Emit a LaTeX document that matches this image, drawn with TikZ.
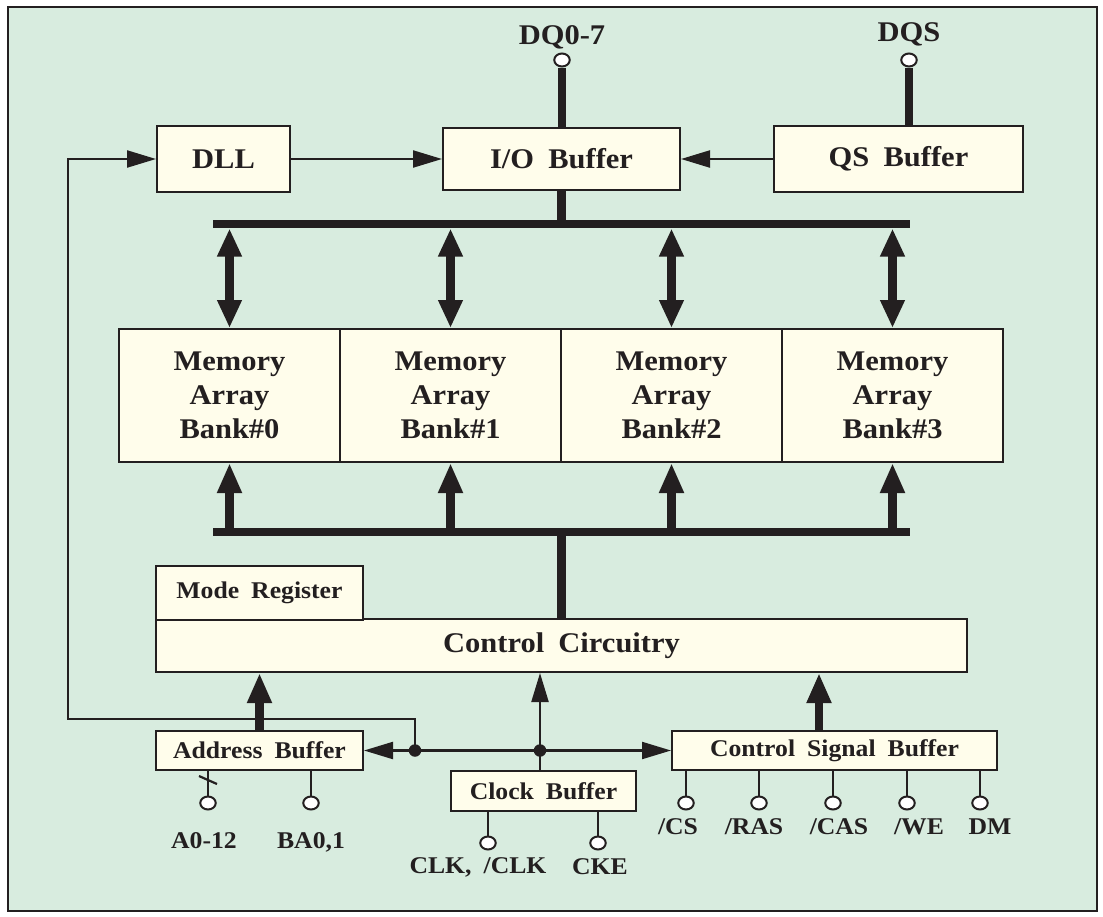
\documentclass[tikz,border=0pt]{standalone}
\usepackage{fontspec}
\setmainfont{Liberation Serif}[FakeStretch=1.07]
\usetikzlibrary{arrows.meta,shapes.geometric}
\definecolor{bg}{RGB}{216,236,223}
\definecolor{boxfill}{RGB}{255,253,235}
\definecolor{ink}{RGB}{35,31,32}
\newcommand{\fbig}{\fontsize{28.5pt}{34pt}\selectfont\bfseries}
\newcommand{\fsmall}{\fontsize{24pt}{28pt}\selectfont\bfseries}
\newcommand{\gap}{\hspace{0.5em}}
\begin{document}
\begin{tikzpicture}[x=1pt,y=-1pt,
  blk/.style={draw=ink, fill=boxfill, line width=2pt, inner sep=0pt, font=\fbig, align=center, text=ink},
  pinc/.style={ellipse, draw=ink, fill=white, line width=2pt, minimum width=15.5pt, minimum height=13pt, inner sep=0pt},
  lbl/.style={inner sep=0pt, text=ink, font=\fsmall, text depth=0pt},
  wire/.style={draw=ink, line width=2.2pt},
  warr/.style={wire, -{Triangle[length=29pt,width=17pt]}},
  bus/.style={draw=ink, line width=8.5pt},
  barr/.style={bus, -{Triangle[length=30pt,width=23pt]}},
  dbarr/.style={bus, {Triangle[length=28pt,width=23pt]}-{Triangle[length=28pt,width=23pt]}},
  jdot/.style={circle, fill=ink, minimum size=12.5pt, inner sep=0pt}
]
\useasboundingbox (0,0) rectangle (1103,916);
\fill[bg] (8,7) rectangle (1097,911);
\draw[ink, line width=2.5pt] (8,7) rectangle (1097,911);

% boxes
\node[blk, minimum width=133pt, minimum height=66pt] (dll) at (223.5,159) {DLL};
\node[blk, minimum width=237pt, minimum height=62pt] (io) at (561.5,159) {I/O\gap Buffer};
\node[blk, minimum width=249pt, minimum height=66pt] (qs) at (898.5,159) {QS\gap Buffer};
\node[blk, minimum width=221pt, minimum height=133pt] (bank0) at (229.5,395.5) {Memory\\Array\\Bank\#0};
\node[blk, minimum width=221pt, minimum height=133pt] (bank1) at (450.5,395.5) {Memory\\Array\\Bank\#1};
\node[blk, minimum width=221pt, minimum height=133pt] (bank2) at (671.5,395.5) {Memory\\Array\\Bank\#2};
\node[blk, minimum width=221pt, minimum height=133pt] (bank3) at (892.5,395.5) {Memory\\Array\\Bank\#3};
\node[blk, minimum width=811pt, minimum height=53pt] (ctrl) at (561.5,645.5) {Control\gap Circuitry};
\node[blk, font=\fsmall, minimum width=207pt, minimum height=54pt] (mode) at (259.5,593) {Mode\gap Register};
\node[blk, font=\fsmall, minimum width=207pt, minimum height=39pt] (addr) at (259.5,750.5) {Address\gap Buffer};
\node[blk, font=\fsmall, minimum width=185pt, minimum height=40pt] (clk) at (543.5,791) {Clock\gap Buffer};
\node[blk, font=\fsmall, minimum width=325pt, minimum height=39pt] (csb) at (834.5,750.5) {Control\gap Signal\gap Buffer};

% pins
\node[pinc] (dq) at (562,60) {};
\node[pinc] (dqs) at (909,60) {};
\node[pinc] (a0) at (208,803) {};
\node[pinc] (ba) at (311,803) {};
\node[pinc] (clkp) at (488,843) {};
\node[pinc] (cke) at (598,843) {};
\node[pinc] (cs) at (686,803) {};
\node[pinc] (ras) at (759,803) {};
\node[pinc] (cas) at (833,803) {};
\node[pinc] (we) at (907,803) {};
\node[pinc] (dm) at (980,803) {};

% labels
\node[lbl, font=\fbig] (ldq) at (562,35) {DQ0-7};
\node[lbl, font=\fbig] (ldqs) at (909,32) {DQS};
\node[lbl] (la0) at (204,841) {A0-12};
\node[lbl] (lba) at (311,841) {BA0,1};
\node[lbl] (lclk) at (478,866) {CLK,\gap /CLK};
\node[lbl] (lcke) at (600,867) {CKE};
\node[lbl] (lcs) at (678,827) {/CS};
\node[lbl] (lras) at (754,827) {/RAS};
\node[lbl] (lcas) at (839,827) {/CAS};
\node[lbl] (lwe) at (919,827) {/WE};
\node[lbl] (ldm) at (990,827) {DM};

% coordinates
\coordinate (tbus) at (213,224);
\coordinate (tbusR) at (910,224);
\coordinate (tbot) at (213,228.5);
\coordinate (bbus) at (213,532);
\coordinate (bbusR) at (910,532);
\coordinate (btop) at (213,527.5);
\coordinate (jA) at (415,750.5);
\coordinate (jC) at (540,750.5);
\coordinate (fbc) at (68,719);

% buses
\draw[bus] (dq.south) -- (dq.south |- io.north);
\draw[bus] (dqs.south) -- (dqs.south |- qs.north);
\draw[bus] (io.south) -- (io.south |- tbus);
\draw[bus] (tbus) -- (tbusR);
\foreach \b in {bank0,bank1,bank2,bank3}{
  \draw[dbarr] (\b.north |- tbot) -- (\b.north);
  \draw[barr] (\b.south |- btop) -- (\b.south);
}
\draw[bus] (bbus) -- (bbusR);
\draw[bus] (ctrl.north |- bbus) -- (ctrl.north);
\draw[barr] (addr.north) -- (addr.north |- ctrl.south);
\draw[barr] ([xshift=-15.5pt]csb.north) -- ([xshift=-15.5pt]csb.north |- ctrl.south);

% thin connectors
\draw[warr] (dll.east) -- (io.west);
\draw[warr] (qs.west) -- (io.east);
\draw[warr] (jA) -- (jA |- fbc) -- (fbc) -- (fbc |- dll.west) -- (dll.west);
\draw[warr] (jA) -- (addr.east);
\draw[warr] (jC) -- (csb.west);
\draw[wire] (jA) -- (jC);
\draw[wire] (clk.north -| jC) -- (jC);
\draw[warr] (jC) -- (jC |- ctrl.south);
\node[jdot] (dA) at (jA) {};
\node[jdot] (dC) at (jC) {};

% pin wires
\draw[wire] (addr.south -| a0) -- (a0.north);
\draw[wire] (addr.south -| ba) -- (ba.north);
\draw[wire] ([shift={(-9,-27)}]a0.center) -- ([shift={(9,-19)}]a0.center);
\draw[wire] (clk.south -| clkp) -- (clkp.north);
\draw[wire] (clk.south -| cke) -- (cke.north);
\foreach \p in {cs,ras,cas,we,dm}{
  \draw[wire] (csb.south -| \p) -- (\p.north);
}
\end{tikzpicture}
\end{document}
